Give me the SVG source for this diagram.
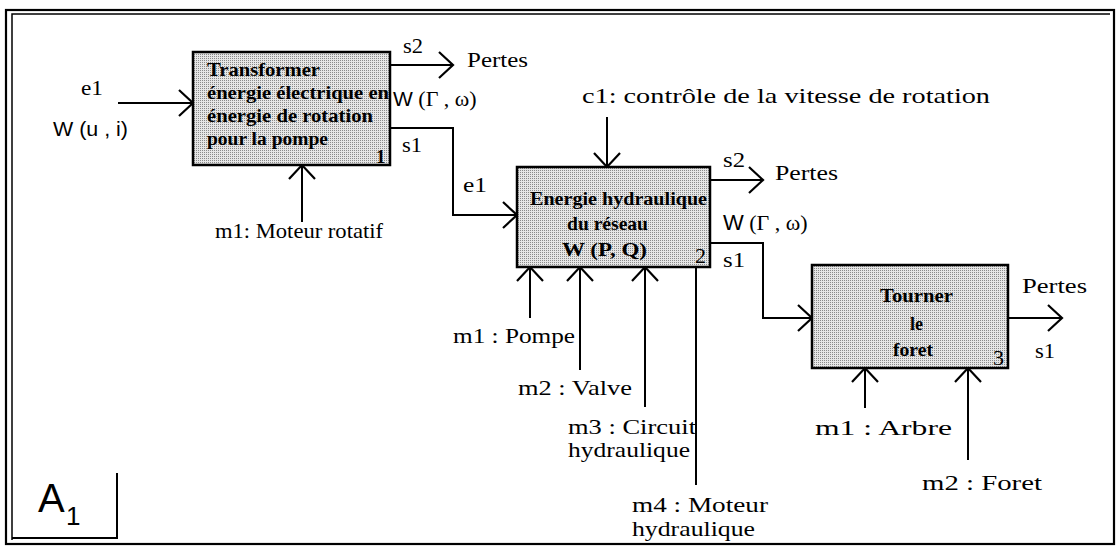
<svg xmlns="http://www.w3.org/2000/svg" width="1118" height="547" viewBox="0 0 1118 547">
<style>
.ser{font-family:"Liberation Serif","Times New Roman",serif;font-size:22px;fill:#000}
.sm{font-size:21px}
.bt{font-family:"Liberation Serif","Times New Roman",serif;font-size:18.5px;font-weight:bold;fill:#000}
.san{font-family:"Liberation Sans",Arial,sans-serif;fill:#000}
.box{fill:url(#dots);stroke:#000;stroke-width:2.5}
.ln{fill:none;stroke:#000;stroke-width:2}
.arr{fill:none;stroke:#000;stroke-width:2;marker-end:url(#ah)}
.frame{fill:none;stroke:#000}
</style>
<defs>
<pattern id="dots" width="2" height="2" patternUnits="userSpaceOnUse">
<rect width="2" height="2" fill="#e6e6e6"/>
<rect width="1" height="1" fill="#8a8a8a"/>
</pattern>
<marker id="ah" markerUnits="userSpaceOnUse" markerWidth="20" markerHeight="30" viewBox="0 0 20 30" refX="16" refY="14" orient="auto">
<path d="M2,1 L16,14 L2,27" fill="none" stroke="#000" stroke-width="2.2"/>
</marker>
</defs>
<rect width="1118" height="547" fill="#fff"/>
<g id="frame">
<rect class="frame" x="6" y="10" width="1108" height="534" stroke-width="2.2"/>
<path class="frame" d="M12,540 V14 H1110" stroke-width="1.5"/>
<path class="frame" d="M12,538 H117 V473" stroke-width="2"/>
<text class="san" x="38" y="512" font-size="40">A</text>
<text class="san" x="66" y="525" font-size="26">1</text>
</g>
<g id="connectors">
<path class="arr" d="M118,103 H193"/>
<path class="arr" d="M390,65 H453"/>
<path class="arr" d="M390,128 H453 V215 H517"/>
<path class="arr" d="M302,222 V165"/>
<path class="arr" d="M607,117 V167"/>
<path class="arr" d="M710,180 H763"/>
<path class="arr" d="M710,243 H763 V318 H812"/>
<path class="arr" d="M530,318 V267"/>
<path class="arr" d="M580,370 V267"/>
<path class="arr" d="M645,407 V267"/>
<path class="ln" d="M696,485 V267"/>
<path class="arr" d="M865,408 V368"/>
<path class="arr" d="M968,460 V368"/>
<path class="arr" d="M1008,318 H1062"/>
</g>
<g id="node1">
<rect class="box" x="193" y="52" width="197" height="113"/>
<text class="bt" x="207" y="76" textLength="113" lengthAdjust="spacingAndGlyphs">Transformer</text>
<text class="bt" x="207" y="99" textLength="182" lengthAdjust="spacingAndGlyphs">énergie électrique en</text>
<text class="bt" x="207" y="122" textLength="166" lengthAdjust="spacingAndGlyphs">énergie de rotation</text>
<text class="bt" x="207" y="145" textLength="121" lengthAdjust="spacingAndGlyphs">pour la pompe</text>
<text class="bt" x="376" y="163">1</text>
</g>
<g id="node1-labels">
<text class="ser" x="81" y="95" textLength="22" lengthAdjust="spacingAndGlyphs">e1</text>
<text class="san" x="53" y="136" font-size="21" textLength="75" lengthAdjust="spacingAndGlyphs">W (u , i)</text>
<text class="ser" x="403" y="53" textLength="20" lengthAdjust="spacingAndGlyphs">s2</text>
<text class="ser" x="467" y="67" textLength="61" lengthAdjust="spacingAndGlyphs">Pertes</text>
<text x="393" y="106"><tspan class="san" font-size="21">W</tspan><tspan class="ser" font-size="18"> (Γ , ω)</tspan></text>
<text class="ser" x="402" y="152" textLength="20" lengthAdjust="spacingAndGlyphs">s1</text>
<text class="ser" x="215" y="238" textLength="168" lengthAdjust="spacingAndGlyphs">m1: Moteur rotatif</text>
</g>
<g id="node2">
<rect class="box" x="517" y="167" width="193" height="100"/>
<text class="bt" x="530" y="205" textLength="177" lengthAdjust="spacingAndGlyphs">Energie hydraulique</text>
<text class="bt" x="567" y="230" textLength="81" lengthAdjust="spacingAndGlyphs">du réseau</text>
<text class="bt" x="562" y="256" textLength="85" lengthAdjust="spacingAndGlyphs">W (P, Q)</text>
<text class="ser" x="695" y="263">2</text>
</g>
<g id="node2-labels">
<text class="ser" x="463" y="192" textLength="24" lengthAdjust="spacingAndGlyphs">e1</text>
<text class="ser" x="582" y="103" textLength="408" lengthAdjust="spacingAndGlyphs">c1: contrôle de la vitesse de rotation</text>
<text class="ser" x="723" y="167" textLength="22" lengthAdjust="spacingAndGlyphs">s2</text>
<text class="ser" x="775" y="180" textLength="63" lengthAdjust="spacingAndGlyphs">Pertes</text>
<text x="723" y="230"><tspan class="san" font-size="22">W</tspan><tspan class="ser" font-size="20"> (Γ , ω)</tspan></text>
<text class="ser" x="723" y="267" textLength="22" lengthAdjust="spacingAndGlyphs">s1</text>
<text class="ser" x="453" y="343" textLength="122" lengthAdjust="spacingAndGlyphs">m1 : Pompe</text>
<text class="ser" x="518" y="395" textLength="114" lengthAdjust="spacingAndGlyphs">m2 : Valve</text>
<text class="ser sm" x="568" y="434" textLength="128" lengthAdjust="spacingAndGlyphs">m3 : Circuit</text>
<text class="ser sm" x="568" y="457" textLength="122" lengthAdjust="spacingAndGlyphs">hydraulique</text>
<text class="ser sm" x="632" y="512" textLength="136" lengthAdjust="spacingAndGlyphs">m4 : Moteur</text>
<text class="ser sm" x="632" y="536" textLength="123" lengthAdjust="spacingAndGlyphs">hydraulique</text>
</g>
<g id="node3">
<rect class="box" x="812" y="265" width="196" height="103"/>
<text class="bt" x="880" y="302" textLength="73" lengthAdjust="spacingAndGlyphs">Tourner</text>
<text class="bt" x="910" y="330" textLength="13" lengthAdjust="spacingAndGlyphs">le</text>
<text class="bt" x="893" y="356" textLength="40" lengthAdjust="spacingAndGlyphs">foret</text>
<text class="ser" x="993" y="365">3</text>
</g>
<g id="node3-labels">
<text class="ser" x="1022" y="293" textLength="65" lengthAdjust="spacingAndGlyphs">Pertes</text>
<text class="ser" x="1035" y="358" textLength="20" lengthAdjust="spacingAndGlyphs">s1</text>
<text class="ser" x="815" y="435" textLength="137" lengthAdjust="spacingAndGlyphs">m1 : Arbre</text>
<text class="ser" x="922" y="490" textLength="120" lengthAdjust="spacingAndGlyphs">m2 : Foret</text>
</g>
</svg>
